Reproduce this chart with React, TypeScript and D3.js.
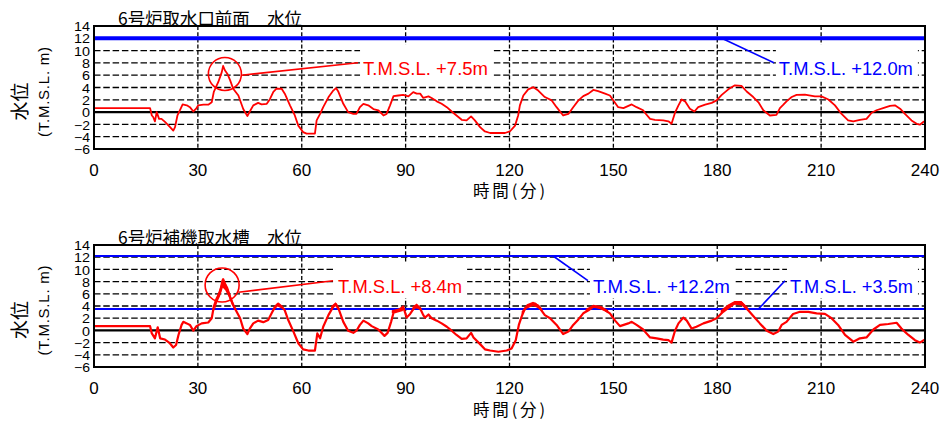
import React from 'react';
import * as d3 from 'd3';

const timeTicks = [0, 30, 60, 90, 120, 150, 180, 210, 240];
const levelTicks = [-6, -4, -2, 0, 2, 4, 6, 8, 10, 12, 14];

// 6号炉取水口前面 水位 (time min, level m)
const frontLevel: [number, number][] = [
  [0, 0.65], [16.2, 0.65], [16.7, -0.55], [17.1, -0.8], [17.6, -1.5], [18.1, 0.0], [18.8, -1.1], [19.5, -1.1],
  [20.5, -1.6], [21.9, -2.4], [22.9, -3.0], [23.4, -2.45], [24.1, -0.55], [24.8, 0.3], [25.6, 1.25], [26.8, 1.1],
  [27.7, 0.8], [28.7, 0.1], [29.5, 0.55], [30.1, 1.1], [31.6, 1.2], [33.0, 1.2], [34.0, 1.6], [34.6, 3.3],
  [35.9, 4.9], [36.9, 6.5], [37.3, 7.5], [37.8, 6.8], [38.5, 6.25], [39.3, 5.2], [40.2, 3.8], [41.7, 2.7],
  [43.1, 0.5], [44.3, -0.65], [45.0, 0.1], [46.0, 1.1], [47.4, 1.5], [48.4, 1.25], [49.9, 1.35], [50.8, 2.1],
  [51.8, 3.3], [52.7, 3.8], [54.2, 3.8], [55.1, 3.0], [56.6, 1.1], [58.0, -0.55], [59.0, -2.2], [60.4, -3.25],
  [61.4, -3.5], [63.8, -3.5], [64.3, -1.35], [65.3, -0.3], [66.2, 0.8], [67.7, 2.4], [69.1, 3.5], [69.9, 3.9],
  [70.5, 3.4], [72.0, 1.35], [73.4, 0.0], [74.9, -0.3], [75.8, -0.3], [76.8, 0.8], [77.8, 1.35], [79.2, 1.1],
  [80.7, 0.5], [82.1, 0.3], [83.6, -0.55], [84.5, -0.3], [85.5, 1.1], [86.5, 2.6], [87.9, 2.7], [89.3, 2.8],
  [90.8, 2.55], [92.2, 3.25], [93.2, 3.0], [94.2, 3.0], [95.1, 2.3], [96.6, 2.55], [97.5, 2.3], [99.0, 1.75],
  [100.4, 1.35], [101.9, 0.8], [103.3, 0.1], [104.7, -0.55], [106.2, -1.25], [107.6, -1.35], [108.9, -0.7],
  [110.0, -1.35], [111.5, -2.45], [112.9, -3.15], [114.4, -3.4], [118.7, -3.4], [120.1, -3.15], [121.6, -2.2],
  [122.5, -0.55], [123.0, 1.1], [124.0, 2.7], [125.4, 3.7], [126.9, 4.05], [128.3, 3.5], [130.2, 2.45],
  [132.2, 1.9], [133.6, 0.8], [135.5, -0.55], [137.0, -0.3], [138.4, 0.8], [139.9, 1.9], [141.3, 2.6],
  [142.8, 3.0], [144.2, 3.6], [145.6, 3.4], [147.6, 3.0], [149.0, 2.7], [150.0, 1.9], [151.4, 0.8],
  [152.9, 0.65], [155.3, 1.25], [156.7, 0.8], [158.6, 0.3], [159.1, -0.1], [160.6, -1.1], [162.0, -1.25],
  [164.4, -1.35], [165.9, -1.5], [166.8, -1.9], [167.8, -0.1], [168.8, 1.1], [169.7, 2.05], [170.7, 1.75],
  [172.1, 0.55], [173.4, 0.1], [174.5, 0.8], [176.5, 1.2], [178.4, 1.5], [179.8, 1.9], [181.3, 2.8],
  [183.2, 3.7], [185.1, 4.35], [187.0, 4.25], [188.5, 3.35], [190.4, 2.45], [191.9, 1.6], [193.3, 0.3],
  [195.2, -0.55], [197.1, -0.45], [198.1, 0.65], [199.1, 1.2], [200.0, 1.75], [201.5, 2.45], [202.9, 2.8],
  [205.3, 2.85], [208.2, 2.55], [210.1, 2.55], [212.1, 2.05], [214.0, 1.1], [215.9, -0.3], [217.8, -1.35],
  [219.3, -1.5], [221.2, -1.25], [223.1, -1.1], [224.6, -0.1], [226.0, 0.3], [227.9, 0.65], [229.9, 1.0],
  [231.3, 1.1], [232.8, 0.55], [234.2, -0.3], [236.1, -1.35], [237.6, -1.9], [238.5, -2.05], [239.5, -1.6],
  [240, -1.5],
];

// 6号炉補機取水槽 水位 (time min, level m)
const auxLevel: [number, number][] = [
  [0, 0.7], [16.2, 0.7], [16.7, -0.5], [17.6, -1.3], [18.4, 0.5], [19.1, -1.3], [20.5, -1.5], [21.9, -2.1],
  [22.9, -2.8], [23.7, -2.4], [24.4, -0.75], [25.3, 0.9], [25.8, 1.4], [26.8, 1.15], [27.7, 0.9], [28.7, -0.05],
  [29.6, 0.7], [31.1, 1.15], [33.0, 1.3], [34.0, 2.0], [34.6, 3.9], [35.4, 5.2], [36.4, 6.3], [37.1, 8.15],
  [37.3, 8.4], [37.8, 7.7], [38.5, 6.9], [39.3, 5.5], [40.2, 4.15], [41.2, 3.05], [42.2, 2.0], [43.1, 0.3],
  [44.3, -0.6], [45.0, 0.3], [46.0, 1.15], [47.4, 1.6], [48.9, 1.35], [50.3, 1.7], [51.3, 2.8], [52.3, 3.9],
  [53.2, 4.4], [54.2, 3.9], [55.1, 3.3], [56.1, 1.7], [57.6, -0.2], [59.0, -2.1], [60.4, -3.1], [61.9, -3.3],
  [63.8, -3.3], [64.5, -0.5], [65.3, -1.3], [66.2, 0.6], [67.7, 2.5], [69.1, 3.9], [69.9, 4.3], [70.8, 3.3],
  [72.0, 1.4], [73.4, -0.05], [74.9, -0.4], [75.8, -0.05], [76.8, 0.9], [77.8, 1.6], [79.2, 1.15], [80.2, 0.7],
  [82.1, 0.15], [83.9, -0.9], [84.8, -0.4], [85.8, 1.4], [86.5, 2.9], [87.4, 3.05], [88.9, 3.3], [89.3, 3.9],
  [90.3, 2.1], [91.3, 2.7], [92.7, 3.9], [94.2, 3.6], [95.1, 2.5], [95.6, 2.1], [96.6, 2.6], [97.5, 2.0],
  [99.0, 1.6], [100.4, 1.15], [101.9, 0.6], [103.3, -0.05], [104.7, -0.75], [106.2, -1.4], [107.6, -1.3],
  [108.9, -0.4], [109.6, -1.15], [111.5, -2.25], [112.9, -3.1], [114.4, -3.3], [116.8, -3.5], [119.2, -3.3],
  [120.6, -2.95], [121.8, -1.6], [122.7, 0.9], [123.5, 2.25], [124.5, 3.6], [125.9, 4.15], [127.4, 4.4],
  [128.8, 3.6], [130.2, 2.5], [131.7, 2.0], [133.6, 0.9], [135.5, -0.6], [137.0, -0.2], [138.4, 0.9],
  [139.9, 1.8], [141.3, 2.8], [142.8, 3.3], [144.2, 3.9], [145.6, 3.8], [147.6, 3.3], [149.0, 2.8],
  [150.5, 1.6], [151.9, 0.7], [154.3, 1.15], [155.3, 1.4], [156.7, 0.9], [158.6, 0.15], [159.1, -0.2],
  [160.6, -1.15], [162.5, -1.3], [164.4, -1.5], [165.9, -1.6], [166.8, -2.0], [167.8, -0.05], [168.8, 1.15],
  [170.2, 2.1], [171.2, 1.6], [172.6, 0.3], [174.0, 0.6], [176.0, 1.15], [178.4, 1.6], [179.8, 2.0],
  [181.7, 3.05], [183.7, 3.9], [185.1, 4.55], [187.0, 4.55], [188.5, 3.6], [190.4, 2.35], [192.3, 1.15],
  [194.3, -0.05], [196.2, -0.6], [197.6, -0.2], [198.6, 0.9], [200.0, 1.4], [201.9, 2.7], [203.9, 3.05],
  [206.3, 3.05], [208.7, 2.8], [211.1, 2.7], [213.0, 2.0], [214.9, 0.9], [216.9, -0.75], [219.3, -1.85],
  [221.2, -1.3], [223.1, -1.15], [225.1, 0.15], [227.0, 0.9], [229.4, 1.05], [231.8, 1.25], [233.2, 0.3],
  [235.2, -0.75], [237.1, -1.6], [238.5, -2.0], [240, -1.5],
];

// oscillation envelope of the auxiliary intake level near crests (time, low, high)
const auxSurgeBand: [number, number, number][][] = [
  [[34.8, 3.2, 4.0], [35.6, 4.6, 5.8], [36.4, 5.6, 7.0], [37.2, 7.0, 8.4], [37.9, 6.6, 7.9], [38.8, 5.6, 6.7], [39.8, 4.2, 5.2], [40.8, 3.2, 3.8]],
  [[51.6, 3.0, 3.5], [53.0, 3.9, 4.5], [54.5, 3.5, 4.0]],
  [[68.5, 3.4, 4.0], [69.8, 4.0, 4.6], [71.0, 3.0, 3.6]],
  [[86.0, 2.8, 3.3], [88.0, 3.1, 3.6], [89.3, 3.5, 4.1]],
  [[92.0, 3.2, 3.9], [93.2, 3.8, 4.4], [94.5, 3.1, 3.7]],
  [[123.5, 2.5, 3.1], [125.0, 3.6, 4.3], [126.8, 4.0, 4.7], [128.5, 3.6, 4.2], [129.5, 3.0, 3.5]],
  [[142.0, 3.0, 3.5], [144.2, 3.7, 4.2], [146.5, 3.5, 4.0], [148.5, 2.8, 3.3]],
  [[181.0, 2.7, 3.3], [183.0, 3.5, 4.2], [185.0, 4.2, 4.8], [187.0, 4.1, 4.8], [188.8, 3.2, 3.8]],
];

const frontThresholds = [12.0];
const auxThresholds = [12.2, 3.5];

const panelTitles = ['6号炉取水口前面\u3000水位', '6号炉補機取水槽\u3000水位'];
const xAxisTitle = '時間(分)';
const yAxisTitle = '水位';
const yAxisUnit = '(T.M.S.L. m)';

type Label = { text: string; color: string; t: number; v: number; fromT: number; fromV: number; width: number };
type Panel = {
  title: string; top: number; bottom: number; data: [number, number][];
  band: [number, number, number][][]; thresholds: number[]; thrWidth: number;
  circle: { t: number; v: number; r: number }; labels: Label[]; xTitleDy: number;
};

const panels: Panel[] = [
  {
    title: panelTitles[0], top: 26, bottom: 149, data: frontLevel, band: [], thresholds: frontThresholds, thrWidth: 4,
    circle: { t: 37.8, v: 6.2, r: 16.5 },
    labels: [
      { text: 'T.M.S.L. +7.5m', color: '#ff0000', t: 77.7, v: 6.0, fromT: 42.6, fromV: 6.0, width: 125 },
      { text: 'T.M.S.L. +12.0m', color: '#0000ff', t: 197.8, v: 6.0, fromT: 181.3, fromV: 12.0, width: 134 },
    ],
    xTitleDy: 48,
  },
  {
    title: panelTitles[1], top: 245, bottom: 367, data: auxLevel, band: auxSurgeBand, thresholds: auxThresholds, thrWidth: 2,
    circle: { t: 37.0, v: 7.45, r: 17 },
    labels: [
      { text: 'T.M.S.L. +8.4m', color: '#ff0000', t: 70.5, v: 6.1, fromT: 41.7, fromV: 6.25, width: 124 },
      { text: 'T.M.S.L. +12.2m', color: '#0000ff', t: 144.1, v: 6.1, fromT: 132.6, fromV: 12.2, width: 137 },
      { text: 'T.M.S.L. +3.5m', color: '#0000ff', t: 201.0, v: 6.1, fromT: 191.9, fromV: 3.5, width: 123 },
    ],
    xTitleDy: 49,
  },
];

const LEFT = 94;
const RIGHT = 925;
const LATIN = '"Liberation Sans", Arial, sans-serif';
const CJK = '"Noto Sans CJK JP", sans-serif';

function PanelView({ p }: { p: Panel }) {
  const x = d3.scaleLinear().domain([0, 240]).range([LEFT, RIGHT]);
  const y = d3.scaleLinear().domain([-6, 14]).range([p.bottom, p.top]);
  const line = d3.line<[number, number]>().x(d => x(d[0])).y(d => y(d[1]));
  const area = d3.area<[number, number, number]>().x(d => x(d[0])).y0(d => y(d[1])).y1(d => y(d[2]));
  const midY = (p.top + p.bottom) / 2;
  return (
    <g>
      <text x={118} y={p.top - 1} fontFamily={CJK} fontSize={17.5} textLength={184} lengthAdjust="spacingAndGlyphs">{p.title}</text>
      {levelTicks.filter(v => v > -6 && v < 14).map(v => (
        <line key={'h' + v} x1={LEFT} x2={RIGHT} y1={y(v)} y2={y(v)} stroke="#000"
          strokeWidth={v === 0 ? 2.2 : 1.3} strokeDasharray={v === 0 ? undefined : '6.5,2.8'} />
      ))}
      {timeTicks.filter(t => t > 0 && t < 240).map(t => (
        <line key={'v' + t} x1={x(t)} x2={x(t)} y1={p.top} y2={p.bottom} stroke="#000" strokeWidth={1.3} strokeDasharray="4,2.2" />
      ))}
      {p.labels.map((l, i) => {
        const tx = x(l.t);
        const by = y(l.v);
        return <rect key={'b' + i} x={tx - 3} y={by - 31} width={l.width + 8} height={36} fill="#fff" />;
      })}
      {p.thresholds.map(v => (
        <line key={'th' + v} x1={LEFT} x2={RIGHT} y1={y(v)} y2={y(v)} stroke="#0000ff" strokeWidth={p.thrWidth} />
      ))}
      {p.band.map((seg, i) => <path key={'band' + i} d={area(seg) || ''} fill="#ff0000" />)}
      <path d={line(p.data) || ''} fill="none" stroke="#ff0000" strokeWidth={p.band.length ? 2.2 : 1.8} strokeLinejoin="round" />
      <circle cx={x(p.circle.t)} cy={y(p.circle.v)} r={p.circle.r} fill="none" stroke="#ff0000" strokeWidth={1.6} />
      {p.labels.map((l, i) => {
        const tx = x(l.t);
        const by = y(l.v);
        return (
          <g key={'l' + i}>
            <line x1={x(l.fromT)} y1={y(l.fromV)} x2={tx - 5} y2={by - 12.5} stroke={l.color} strokeWidth={1.6} />
            <text x={tx} y={by} fill={l.color} fontFamily={LATIN} fontSize={18} textLength={l.width} lengthAdjust="spacingAndGlyphs">{l.text}</text>
          </g>
        );
      })}
      <rect x={LEFT} y={p.top} width={RIGHT - LEFT} height={p.bottom - p.top} fill="none" stroke="#000" strokeWidth={2} />
      {levelTicks.map(v => (
        <text key={'yt' + v} x={90} y={y(v) + 0.8} dy="0.35em" textAnchor="end" fontFamily={LATIN} fontSize={12.5}
          textLength={v < 0 || v >= 10 ? 16 : 8} lengthAdjust="spacingAndGlyphs">
          {v < 0 ? '\u2212' + Math.abs(v) : String(v)}
        </text>
      ))}
      {timeTicks.map(t => (
        <text key={'xt' + t} x={x(t)} y={p.bottom + 26.5} textAnchor="middle" fontFamily={LATIN} fontSize={17}>{t}</text>
      ))}
      <text x={509} y={p.bottom + p.xTitleDy} textAnchor="middle" fontFamily={CJK} fontSize={16.5} textLength={72} lengthAdjust="spacing">{xAxisTitle}</text>
      <text transform={`translate(27,${midY + 14}) rotate(-90)`} textAnchor="middle" fontFamily={CJK} fontSize={19}>{yAxisTitle}</text>
      <text transform={`translate(49,${midY + 4.5}) rotate(-90)`} textAnchor="middle" fontFamily={LATIN} fontSize={15} textLength={90} lengthAdjust="spacing">{yAxisUnit}</text>
    </g>
  );
}

export default function App() {
  return (
    <svg width={940} height={422} style={{ position: 'absolute', left: 0, top: 0, background: '#fff' }}>
      <rect width={940} height={422} fill="#fff" />
      {panels.map((p, i) => <PanelView key={i} p={p} />)}
    </svg>
  );
}
